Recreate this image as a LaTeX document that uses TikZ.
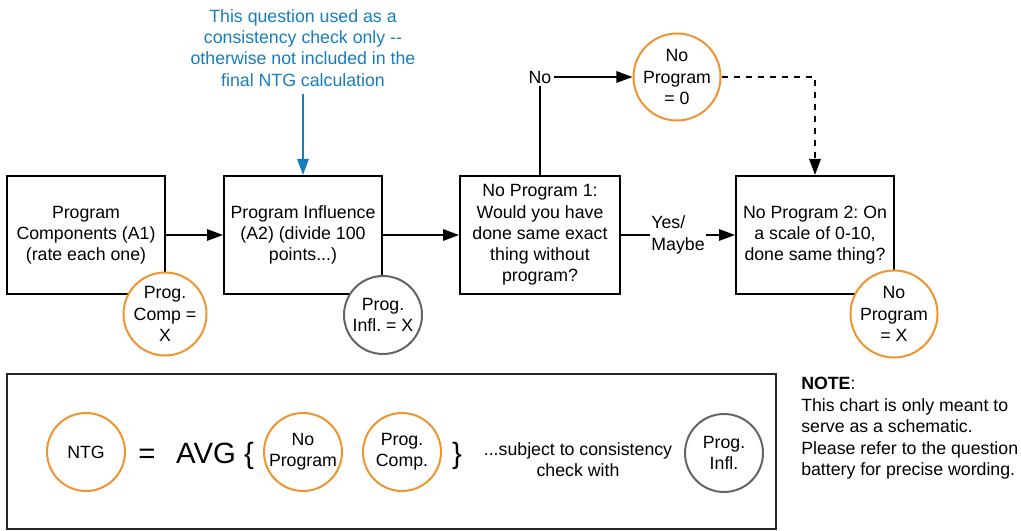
\documentclass[tikz,border=0pt]{standalone}
\usepackage{fontspec}
\setmainfont{Liberation Sans}
\usetikzlibrary{arrows.meta}
\definecolor{orng}{RGB}{240,148,48}
\definecolor{blu}{RGB}{22,125,190}
\definecolor{gry}{RGB}{100,100,100}
\frenchspacing
\begin{document}
\begin{tikzpicture}[x=0.75pt,y=-0.75pt,
  every node/.style={font=\fontsize{13.3}{15.9}\selectfont},
  stepbox/.style={draw, line width=1.5pt, minimum width=118.5pt, minimum height=88.5pt, align=center, inner sep=0pt},
  circ/.style={circle, draw=orng, line width=1.5pt, fill=white, minimum size=58.5pt, inner sep=0pt, align=center},
  gcirc/.style={circ, draw=gry},
  conn/.style={line width=1.5pt, -{Triangle[length=12pt,width=8.5pt]}},
  big/.style={font=\fontsize{22}{26}\selectfont}
]
\useasboundingbox (0,0) rectangle (1021,531);

% top row boxes
\node[stepbox] (b1) at (86,235) {Program\\Components (A1)\\(rate each one)};
\node[stepbox] (b2) at (303,235) {Program Influence\\(A2) (divide 100\\points...)};
\node[stepbox, minimum width=120pt] (b3) at (540,235) {No Program 1:\\Would you have\\done same exact\\thing without\\program?};
\node[stepbox] (b4) at (815,235) {No Program 2: On\\a scale of 0-10,\\done same thing?};

% circles on boxes
\node[circ] (cc) at (165,314) {Prog.\\Comp =\\X};
\node[gcirc] (ci) at (383,315) {Prog.\\Infl. = X};
\node[circ] (c0) at (677,77) {No\\Program\\= 0};
\node[circ] (cx) at (894,314) {No\\Program\\= X};

% blue note
\node[text=blu, align=center] (blue) at (303,48) {This question used as a\\consistency check only -\kern0pt-\\otherwise not included in the\\final NTG calculation};
\draw[conn, draw=blu, -{Triangle[length=12pt,width=8.5pt]}, shorten <=2pt] (blue.south) -- (b2.north);

% connectors
\draw[conn] (b1.east) -- (b2.west);
\draw[conn] (b2.east) -- (b3.west);
\node[inner sep=2pt] (no) at (540,77) {No};
\draw[line width=1.5pt] (b3.north) -- (no.south);
\draw[conn] (no.east) -- (no.east -| c0.west);
\draw[conn, dashed, dash pattern=on 5pt off 4pt] (c0.east) -| (b4.north);
\draw[conn] (b3.east) -- node[fill=white, align=left, inner sep=1pt] (ym) {Yes/\\Maybe} (b4.west);

% bottom formula box
\node[draw=black!85, line width=1.5pt, minimum width=576.75pt, minimum height=116.25pt, inner sep=0pt] (fb) at (391.5,451.5) {};
\node[circ] (ntg) at (86,452) {NTG};
\node[big, anchor=base] (eq) at (147,463) {=};
\node[big, anchor=base] (avg) at (215,463) {AVG \{};
\node[circ] (np) at (303,452) {No\\Program};
\node[circ] (pc) at (402,452) {Prog.\\Comp.};
\node[big, anchor=base] (rb) at (457,463) {\}};
\node[align=center] (sub) at (578,460) {...subject to consistency\\check with};
\node[gcirc] (pi) at (724,453) {Prog.\\Infl.};

% note
\node[anchor=north west, align=left, inner sep=0pt, font=\fontsize{13.3}{16.1}\selectfont] (note) at (801,377) {\textbf{NOTE}:\\This chart is only meant to\\serve as a schematic.\\Please refer to the question\\battery for precise wording.};
\end{tikzpicture}
\end{document}
